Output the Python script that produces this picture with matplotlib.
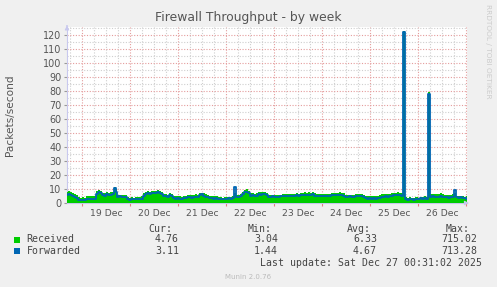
import matplotlib
matplotlib.use('Agg')
import matplotlib.pyplot as plt
import matplotlib.dates as mdates
import numpy as np
import pandas as pd

# rrd samples, roughly one per hour
received = [8.0, 8.5, 7.6, 6.9, 6.5, 5.8,
            4.2, 3.9, 4.1, 3.8,
            5.0, 4.8, 5.2, 4.7, 5.3,
            8.5, 9.3, 8.8,
            7.4, 7.0, 7.8, 7.2, 7.5, 8.0,
            11.7, 9.8,
            5.7, 6.0, 5.4, 5.9, 5.5,
            4.0, 3.8, 4.3, 3.9, 4.2, 4.5, 4.1, 4.8,
            6.8, 8.0, 8.4, 7.8, 8.6,
            8.8, 8.4, 9.0, 8.6, 8.0,
            6.4, 6.7, 6.0, 6.9, 6.2,
            5.0, 4.7, 5.3, 4.9, 4.6, 5.2, 5.1,
            5.7, 6.0, 5.5, 5.9, 6.2, 5.7, 6.8, 7.4,
            6.9, 6.4, 5.9,
            5.0, 5.3, 4.8, 5.1, 4.7,
            4.0, 4.3, 3.9, 4.4, 4.2,
            4.5, 4.3, 4.9,
            6.9,
            5.7, 5.5, 6.4,
            8.0, 9.0, 9.8, 8.4,
            6.9, 7.2, 6.6, 7.0,
            8.0, 7.6, 8.2, 7.8, 7.0,
            5.7, 5.5, 6.0, 5.6, 5.9, 5.4, 6.0,
            6.4, 6.2, 6.7, 6.3, 6.6, 6.1, 6.5, 6.8, 6.3, 6.9,
            7.4, 7.7, 7.1, 7.6, 7.3, 7.8, 7.0,
            6.4, 6.1, 6.6, 6.3, 6.5, 6.2, 6.7, 6.4, 6.8, 7.0,
            7.4, 7.1, 7.7, 7.2, 6.8,
            5.7, 5.5, 6.0, 5.6, 5.8,
            6.4, 6.7, 6.2, 6.6, 6.0,
            5.0, 4.8, 5.2, 4.9, 5.3, 4.7, 5.1, 5.5,
            6.4, 6.1, 6.6, 6.3, 6.7, 7.0,
            7.4, 7.1, 7.7, 7.3, 7.0,
            123.0,
            4.0, 3.8, 4.1, 3.9, 3.7, 4.0, 4.2, 3.9,
            4.5, 4.3, 4.7, 4.4,
            79.0,
            6.4, 6.7, 6.1, 6.5, 6.3, 6.8, 6.2,
            5.7, 6.0, 5.5, 5.8, 6.1,
            7.0,
            5.0, 4.8, 5.2, 4.9, 4.6, 4.8]

forwarded = [5.7, 6.2, 5.5, 4.8, 4.5, 3.8,
             2.4, 2.1, 2.3, 2.0,
             2.6, 2.8, 2.5, 2.7, 3.0,
             6.5, 8.0, 7.0,
             5.7, 5.2, 6.1, 5.5, 5.8, 6.3,
             10.5, 8.2,
             4.5, 4.8, 4.2, 4.6, 4.0,
             2.6, 2.4, 2.8, 2.5, 2.7, 3.0, 2.6, 3.2,
             5.0, 6.4, 6.8, 6.1, 7.0,
             7.4, 6.9, 7.6, 7.1, 6.5,
             5.0, 5.3, 4.6, 5.5, 4.8,
             3.3, 3.0, 3.6, 3.2, 2.9, 3.5, 3.4,
             4.0, 4.3, 3.8, 4.2, 4.5, 4.0, 5.5, 6.4,
             5.0, 4.6, 4.2,
             3.3, 3.6, 3.1, 3.4, 3.0,
             2.6, 2.8, 2.5, 2.9, 2.7,
             3.3, 3.0, 3.5,
             11.7,
             4.5, 4.2, 5.0,
             6.5, 7.5, 8.0, 6.8,
             5.0, 5.4, 4.8, 5.2,
             6.4, 6.0, 6.6, 6.2, 5.5,
             4.5, 4.2, 4.8, 4.4, 4.6, 4.1, 4.7,
             5.0, 4.8, 5.3, 4.9, 5.2, 4.7, 5.1, 5.4, 4.9, 5.5,
             5.7, 6.0, 5.5, 5.9, 5.6, 6.1, 5.3,
             5.0, 4.7, 5.2, 4.9, 5.1, 4.8, 5.3, 5.0, 5.4, 5.6,
             5.7, 5.4, 6.0, 5.5, 5.2,
             4.5, 4.3, 4.8, 4.4, 4.6,
             5.0, 5.3, 4.8, 5.2, 4.6,
             3.3, 3.1, 3.5, 3.2, 3.6, 3.0, 3.4, 3.8,
             4.5, 4.2, 4.7, 4.4, 4.8, 5.2,
             5.7, 5.4, 6.0, 5.6, 5.3,
             122.0,
             2.6, 2.4, 2.7, 2.5, 2.3, 2.6, 2.8, 2.5,
             3.3, 3.0, 3.4, 3.2,
             78.0,
             4.5, 4.8, 4.2, 4.6, 4.4, 4.9, 4.3,
             4.0, 4.3, 3.8, 4.1, 4.4,
             9.3,
             4.0, 3.8, 4.2, 3.9, 3.6, 3.1]

start = pd.Timestamp('2025-12-18 16:31')
end = pd.Timestamp('2025-12-27 00:31')
day_labels = ['19 Dec', '20 Dec', '21 Dec', '22 Dec', '23 Dec', '24 Dec', '25 Dec', '26 Dec']

series_names = ['Received', 'Forwarded']
cur_vals = ['4.76', '3.11']
min_vals = ['3.04', '1.44']
avg_vals = ['6.33', '4.67']
max_vals = ['715.02', '713.28']

green = '#00CC00'
blue = '#0066B3'
bg = '#F0F0F0'

W, H = 497, 287
fig = plt.figure(figsize=(W / 100, H / 100), dpi=100, facecolor=bg)
ax = fig.add_axes([67 / W, 1 - 203 / H, 400 / W, 176 / H])
ax.set_facecolor('white')

t_recv = pd.date_range(start, end, periods=len(received))
t_fwd = pd.date_range(start, end, periods=len(forwarded))

ax.fill_between(t_recv, 0, received, color=green, step='mid', lw=0, zorder=3)
ax.step(t_fwd, forwarded, where='mid', color=blue, lw=1.3, zorder=4)

ax.set_xlim(start, end)
ax.set_ylim(0, 125.7)

# grid: red dotted majors, grey dotted minors
ax.set_yticks(np.arange(0, 121, 10))
ax.set_yticks(np.arange(5, 126, 10), minor=True)
ax.xaxis.set_major_locator(mdates.DayLocator())
ax.xaxis.set_minor_locator(mdates.HourLocator(byhour=[6, 12, 18]))
ax.xaxis.set_major_formatter(plt.NullFormatter())
ax.grid(which='major', color='#E49C9C', ls=(0, (1, 1.5)), lw=0.8, zorder=1)
ax.grid(which='minor', color='#CFCFCF', ls=(0, (1, 1.5)), lw=0.8, zorder=1)
ax.set_axisbelow(True)

ax.tick_params(axis='y', which='major', labelsize=6.9, colors='#999999',
               labelcolor='#555555', length=2, pad=2)
ax.tick_params(axis='y', which='minor', length=0)
ax.tick_params(axis='x', which='major', length=2, colors='#E08080')
ax.tick_params(axis='x', which='minor', length=0)

for sp in ['top', 'right']:
    ax.spines[sp].set_visible(False)
ax.spines['left'].set_color('#C8C8EE')
ax.spines['bottom'].set_color('#C8C8EE')
ax.spines['left'].set_linewidth(0.8)
ax.spines['bottom'].set_linewidth(0.8)

# day labels at noon
for i, lab in enumerate(day_labels):
    noon = pd.Timestamp('2025-12-19 12:00') + pd.Timedelta(days=i)
    ax.text(noon, -0.035, lab, transform=ax.get_xaxis_transform(),
            ha='center', va='top', fontsize=6.7, color='#555555')

# axis arrows
ax.annotate('', xy=(0, 1.025), xytext=(0, 0.99), xycoords='axes fraction',
            arrowprops=dict(arrowstyle='-|>', color='#C8C8EE', lw=0.8,
                            mutation_scale=6), annotation_clip=False)
ax.annotate('', xy=(1.012, 0), xytext=(0.99, 0), xycoords='axes fraction',
            arrowprops=dict(arrowstyle='-|>', color='#C8C8EE', lw=0.8,
                            mutation_scale=6), annotation_clip=False)

fig.text(248 / W, 1 - 18 / H, 'Firewall Throughput - by week', ha='center',
         va='center', fontsize=8.9, color='#555555')
fig.text(10 / W, 1 - 115 / H, 'Packets/second', rotation=90, ha='center',
         va='center', fontsize=7.6, color='#555555')
fig.text(488 / W, 1 - 4 / H, 'RRDTOOL / TOBI OETIKER', rotation=270,
         ha='center', va='top', fontsize=5.3, color='#CCCCCC')

# legend block
mono = dict(family='DejaVu Sans Mono', fontsize=7.1, color='#444444', va='center')
fig.text(172 / W, 1 - 228.5 / H, 'Cur:', ha='right', **mono)
fig.text(272 / W, 1 - 228.5 / H, 'Min:', ha='right', **mono)
fig.text(371 / W, 1 - 228.5 / H, 'Avg:', ha='right', **mono)
fig.text(470 / W, 1 - 228.5 / H, 'Max:', ha='right', **mono)
rows_y = [239.5, 251]
for k, name in enumerate(series_names):
    y = 1 - rows_y[k] / H
    col = green if k == 0 else blue
    fig.add_artist(plt.Rectangle((14 / W, y - 3 / H), 6 / W, 6 / H,
                                 transform=fig.transFigure, color=col, lw=0))
    fig.text(26.5 / W, y, name, ha='left', **mono)
    fig.text(179 / W, y, cur_vals[k], ha='right', **mono)
    fig.text(278 / W, y, min_vals[k], ha='right', **mono)
    fig.text(377 / W, y, avg_vals[k], ha='right', **mono)
    fig.text(477 / W, y, max_vals[k], ha='right', **mono)

fig.text(482 / W, 1 - 263.5 / H, 'Last update: Sat Dec 27 00:31:02 2025',
         ha='right', **mono)
fig.text(248 / W, 1 - 277 / H, 'Munin 2.0.76', ha='center', va='center',
         fontsize=5, color='#BBBBBB')

fig.savefig('out.png', dpi=100, facecolor=bg)
